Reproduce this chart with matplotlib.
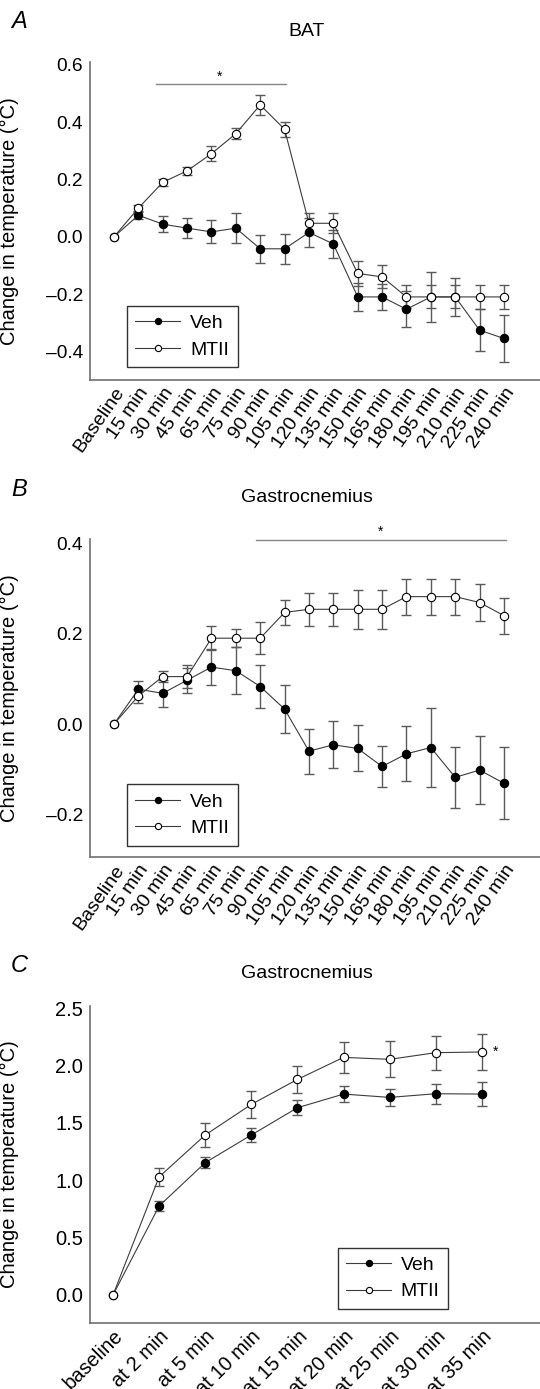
import matplotlib
matplotlib.use('Agg')
import matplotlib.pyplot as plt
import numpy as np

plt.rcParams['font.family'] = ['Liberation Sans', 'DejaVu Sans']

# time points, panels A and B
times_ab = ['Baseline', '15 min', '30 min', '45 min', '65 min', '75 min', '90 min',
            '105 min', '120 min', '135 min', '150 min', '165 min', '180 min',
            '195 min', '210 min', '225 min', '240 min']
# panel C
times_c = ['baseline', 'at 2 min', 'at 5 min', 'at 10 min', 'at 15 min',
           'at 20 min', 'at 25 min', 'at 30 min', 'at 35 min']

# A - BAT
bat_veh = [0.0, 0.075, 0.044, 0.03, 0.017, 0.03, -0.042, -0.042, 0.015, -0.025,
           -0.21, -0.21, -0.253, -0.21, -0.21, -0.326, -0.355]
bat_veh_err = [0.0, 0.013, 0.028, 0.034, 0.04, 0.052, 0.048, 0.052, 0.05, 0.05,
               0.049, 0.046, 0.062, 0.04, 0.04, 0.074, 0.081]
bat_mtii = [0.0, 0.10, 0.19, 0.23, 0.29, 0.36, 0.46, 0.375, 0.047, 0.047,
            -0.128, -0.14, -0.21, -0.21, -0.21, -0.21, -0.21]
bat_mtii_err = [0.0, 0.01, 0.012, 0.015, 0.027, 0.02, 0.036, 0.027, 0.035, 0.035,
                0.043, 0.04, 0.04, 0.087, 0.065, 0.041, 0.041]

# B - gastrocnemius
gas_veh = [0.0, 0.077, 0.068, 0.097, 0.126, 0.118, 0.083, 0.033, -0.06, -0.046,
           -0.054, -0.094, -0.066, -0.052, -0.118, -0.102, -0.131]
gas_veh_err = [0.0, 0.018, 0.03, 0.028, 0.04, 0.052, 0.048, 0.053, 0.05, 0.052,
               0.051, 0.046, 0.061, 0.088, 0.067, 0.076, 0.08]
gas_mtii = [0.0, 0.062, 0.105, 0.105, 0.19, 0.19, 0.19, 0.247, 0.254, 0.254,
            0.254, 0.254, 0.282, 0.282, 0.282, 0.269, 0.24]
gas_mtii_err = [0.0, 0.015, 0.013, 0.025, 0.026, 0.02, 0.036, 0.028, 0.037, 0.037,
                0.043, 0.043, 0.04, 0.04, 0.04, 0.04, 0.04]

# C - gastrocnemius, short time course
c_veh = [0.0, 0.776, 1.154, 1.395, 1.633, 1.752, 1.723, 1.755, 1.752]
c_veh_err = [0.0, 0.04, 0.048, 0.061, 0.067, 0.07, 0.071, 0.087, 0.103]
c_mtii = [0.0, 1.03, 1.395, 1.662, 1.88, 2.072, 2.055, 2.113, 2.119]
c_mtii_err = [0.0, 0.081, 0.107, 0.12, 0.12, 0.134, 0.158, 0.148, 0.157]

line_c = '#3c3c3c'
err_c = '#5a5a5a'
spine_c = '#707070'

H = 1389.0
W = 540.0
fig = plt.figure(figsize=(W / 100, H / 100), dpi=100)


def panel(top_px, bot_px, labels, veh, veh_err, mtii, mtii_err, xlim, ylim, yticks,
          rot, fs, xfs, leg_xy):
    ax = fig.add_axes([90 / W, 1 - bot_px / H, 450 / W, (bot_px - top_px) / H])
    x = np.arange(len(labels))
    for y, e in [(veh, veh_err), (mtii, mtii_err)]:
        y = np.array(y)
        e = np.array(e)
        m = e > 0
        ax.errorbar(x[m], y[m], yerr=e[m], fmt='none', ecolor=err_c, elinewidth=1.0,
                    capsize=3.6, capthick=1.0, zorder=2)
    ax.plot(x, veh, '-o', color=line_c, lw=0.8, ms=6, mfc='black', mec='black',
            mew=0.8, label='Veh', zorder=3)
    ax.plot(x, mtii, '-o', color=line_c, lw=0.8, ms=6, mfc='white', mec='black',
            mew=0.8, label='MTII', zorder=4)
    ax.set_xlim(*xlim)
    ax.set_ylim(*ylim)
    ax.set_yticks(yticks)
    ax.set_yticklabels(['%.1f' % v if v >= 0 else '\u2013%.1f' % -v for v in yticks],
                       fontsize=fs)
    ax.set_xticks(x)
    ax.set_xticklabels(labels, rotation=rot, ha='right', va='top',
                       rotation_mode='anchor', fontsize=xfs)
    ax.tick_params(length=0, pad=5)
    ax.tick_params(axis='x', pad=3)
    for s in ['top', 'right']:
        ax.spines[s].set_visible(False)
    for s in ['left', 'bottom']:
        ax.spines[s].set_color(spine_c)
        ax.spines[s].set_linewidth(1.2)
    ax.set_ylabel('Change in temperature (\u00b0C)', fontsize=14.5)
    ax.yaxis.set_label_coords(-0.158, 0.5)
    leg = ax.legend(loc='lower left', bbox_to_anchor=leg_xy, borderaxespad=0,
                    fontsize=14, fancybox=False, edgecolor='#333333', framealpha=1,
                    handlelength=2.3, handletextpad=0.5, labelspacing=0.45,
                    borderpad=0.45, markerscale=0.75)
    leg.get_frame().set_linewidth(1.0)
    return ax


axA = panel(62, 380, times_ab, bat_veh, bat_veh_err, bat_mtii, bat_mtii_err,
            (-0.985, 17.48), (-0.5, 0.61), [-0.4, -0.2, 0.0, 0.2, 0.4, 0.6], 55,
            13.8, 14, (0.0816, 0.04))
axA.plot([1.72, 7.07], [0.532, 0.532], color='#888888', lw=1.0)
axA.text(4.34, 0.533, '*', ha='center', va='bottom', fontsize=10)

axB = panel(538.8, 857.3, times_ab, gas_veh, gas_veh_err, gas_mtii, gas_mtii_err,
            (-0.985, 17.48), (-0.295, 0.41), [-0.2, 0.0, 0.2, 0.4], 55,
            13.8, 14, (0.0816, 0.036))
axB.plot([5.82, 16.07], [0.408, 0.408], color='#888888', lw=1.0, clip_on=False)
axB.text(10.94, 0.41, '*', ha='center', va='bottom', fontsize=10, clip_on=False)

axC = panel(1006, 1322.5, times_c, c_veh, c_veh_err, c_mtii, c_mtii_err,
            (-0.499, 9.26), (-0.24, 2.52), [0.0, 0.5, 1.0, 1.5, 2.0, 2.5], 45,
            14.5, 14.5, (0.55, 0.042))
axC.text(8.3, 2.06, '*', ha='center', va='bottom', fontsize=10)

for lab, ttl, ylab, yt in [('A', 'BAT', 22, 31.7), ('B', 'Gastrocnemius', 489, 497.5),
                           ('C', 'Gastrocnemius', 966, 974)]:
    fig.text(19.5 / W, 1 - ylab / H, lab, fontsize=17, style='italic',
             ha='center', va='center')
    fig.text(307 / W, 1 - yt / H, ttl, fontsize=14, ha='center', va='center')

fig.savefig('out.png', dpi=100)
